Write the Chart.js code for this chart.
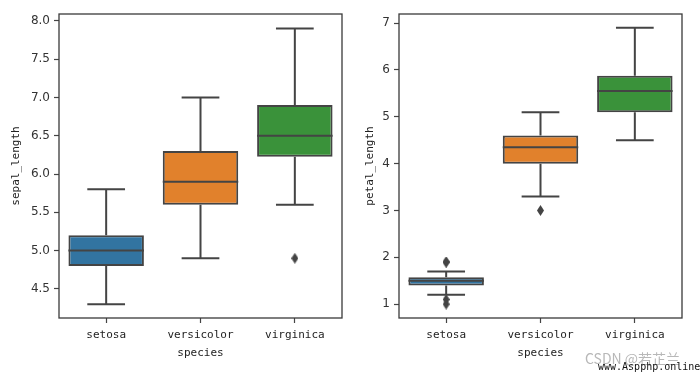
<!DOCTYPE html>
<html lang="en">
<head>
<meta charset="UTF-8">
<title>iris boxplots</title>
<style>
  body { margin: 0; width: 700px; height: 374px; background: #fff; position: relative; overflow: hidden; }
  .wrap { position: absolute; top: 0; width: 350px; height: 374px; }
  #w1 { left: 0; }
  #w2 { left: 350px; }
  #mark1 { position: absolute; left: 585px; top: 348px; font: 14px "Noto Sans CJK SC", "Noto Sans"; color: #b8b8b8; }
  #mark2 { position: absolute; left: 598px; top: 361px; font: 10px "DejaVu Sans Mono"; color: #111; }
</style>
</head>
<body>
<div class="wrap" id="w1"><canvas id="c1" width="350" height="374"></canvas></div>
<div class="wrap" id="w2"><canvas id="c2" width="350" height="374"></canvas></div>
<div id="mark1">CSDN @若芷兰</div>
<div id="mark2">www.Aspphp.online</div>

<script src="https://cdn.jsdelivr.net/npm/chart.js"></script>
<script>
// data
var species = ['setosa', 'versicolor', 'virginica'];
var colors = ['#3274a1', '#e1812c', '#3a923a'];

// sepal_length: [min whisker, q1, median, q3, max whisker]
var sepalMin = [4.3, 4.9, 5.6];
var sepalQ1 = [4.8, 5.6, 6.225];
var sepalMed = [5.0, 5.9, 6.5];
var sepalQ3 = [5.2, 6.3, 6.9];
var sepalMax = [5.8, 7.0, 7.9];
var sepalOut = [{x: 'virginica', y: 4.9}];
var sepalTicks = [4.5, 5.0, 5.5, 6.0, 6.5, 7.0, 7.5, 8.0];

// petal_length
var petalMin = [1.2, 3.3, 4.5];
var petalQ1 = [1.4, 4.0, 5.1];
var petalMed = [1.5, 4.35, 5.55];
var petalQ3 = [1.575, 4.6, 5.875];
var petalMax = [1.7, 5.1, 6.9];
var petalOut = [{x: 'setosa', y: 1.0}, {x: 'setosa', y: 1.1}, {x: 'setosa', y: 1.9}, {x: 'setosa', y: 1.9}, {x: 'versicolor', y: 3.0}];
var petalTicks = [1, 2, 3, 4, 5, 6, 7];

var gray = '#444444';

// thin diamond marker for the fliers
var diamond = document.createElement('canvas');
diamond.width = 7; diamond.height = 11;
(function () {
  var g = diamond.getContext('2d');
  g.fillStyle = gray;
  g.beginPath();
  g.moveTo(3.5, 0); g.lineTo(7, 5.5); g.lineTo(3.5, 11); g.lineTo(0, 5.5);
  g.closePath(); g.fill();
})();

// whiskers, caps, medians and frame
var boxParts = {
  id: 'boxParts',
  afterDatasetsDraw: function (chart) {
    var s = chart.options.plugins.boxParts;
    var ctx = chart.ctx, x = chart.scales.x, y = chart.scales.y;
    var meta = chart.getDatasetMeta(0);
    ctx.save();
    ctx.strokeStyle = gray;
    ctx.lineWidth = 2;
    for (var i = 0; i < species.length; i++) {
      var cx = x.getPixelForValue(i);
      var w = meta.data[i].width;
      var cap = w / 4;
      ctx.beginPath();
      ctx.moveTo(cx, y.getPixelForValue(s.q3[i]));
      ctx.lineTo(cx, y.getPixelForValue(s.max[i]));
      ctx.moveTo(cx, y.getPixelForValue(s.q1[i]));
      ctx.lineTo(cx, y.getPixelForValue(s.min[i]));
      ctx.moveTo(cx - cap, y.getPixelForValue(s.max[i]));
      ctx.lineTo(cx + cap, y.getPixelForValue(s.max[i]));
      ctx.moveTo(cx - cap, y.getPixelForValue(s.min[i]));
      ctx.lineTo(cx + cap, y.getPixelForValue(s.min[i]));
      ctx.moveTo(cx - w / 2, y.getPixelForValue(s.med[i]));
      ctx.lineTo(cx + w / 2, y.getPixelForValue(s.med[i]));
      ctx.stroke();
    }
    var a = chart.chartArea;
    ctx.strokeStyle = '#3a3a3a';
    ctx.lineWidth = 1.3;
    ctx.strokeRect(a.left, a.top, a.right - a.left, a.bottom - a.top);
    ctx.restore();
  }
};

function makeChart(id, title, mn, q1, med, q3, mx, out, ticks, ymin, ymax, yWidth, padRight, titlePad) {
  var boxes = [];
  for (var i = 0; i < species.length; i++) boxes.push([q1[i], q3[i]]);
  new Chart(document.getElementById(id), {
    type: 'bar',
    data: {
      labels: species,
      datasets: [
        {
          data: boxes,
          backgroundColor: colors,
          borderColor: gray,
          borderWidth: 2,
          borderSkipped: false,
          categoryPercentage: 0.8,
          barPercentage: 1.0
        },
        {
          type: 'scatter',
          data: out,
          pointStyle: diamond,
          pointRadius: 5,
          backgroundColor: gray,
          borderColor: gray
        }
      ]
    },
    options: {
      responsive: false,
      animation: false,
      layout: { padding: { top: 14, right: padRight, left: 0, bottom: 14 } },
      plugins: {
        legend: { display: false },
        tooltip: { enabled: false },
        boxParts: { min: mn, q1: q1, med: med, q3: q3, max: mx }
      },
      scales: {
        x: {
          type: 'category',
          offset: true,
          grid: { offset: false, drawOnChartArea: false, drawTicks: true, tickLength: 5, tickColor: gray, tickWidth: 1.2 },
          border: { display: false },
          ticks: { color: '#222', font: { family: 'DejaVu Sans Mono', size: 11 }, padding: 6, maxRotation: 0 },
          title: { display: true, text: 'species', color: '#222', font: { family: 'DejaVu Sans Mono', size: 11 }, padding: { top: 0, bottom: 0 } },
          afterFit: function (scale) { scale.height = 42; }
        },
        y: {
          min: ymin,
          max: ymax,
          afterBuildTicks: function (scale) {
            scale.ticks = ticks.map(function (v) { return { value: v }; });
          },
          grid: { drawOnChartArea: false, drawTicks: true, tickLength: 5, tickColor: gray, tickWidth: 1.2 },
          border: { display: false },
          ticks: {
            color: '#333',
            font: { family: 'DejaVu Sans', size: 12 },
            padding: 4,
            callback: function (v) { return ticks[0] % 1 ? v.toFixed(1) : String(v); }
          },
          title: { display: true, text: title, color: '#222', font: { family: 'DejaVu Sans Mono', size: 11 }, padding: { top: titlePad, bottom: 0 } },
          afterFit: function (scale) { scale.width = yWidth; }
        }
      }
    },
    plugins: [boxParts]
  });
}

makeChart('c1', 'sepal_length', sepalMin, sepalQ1, sepalMed, sepalQ3, sepalMax, sepalOut, sepalTicks, 4.12, 8.09, 59, 8, 10);
makeChart('c2', 'petal_length', petalMin, petalQ1, petalMed, petalQ3, petalMax, petalOut, petalTicks, 0.705, 7.195, 49, 18, 14);
</script>
</body>
</html>
